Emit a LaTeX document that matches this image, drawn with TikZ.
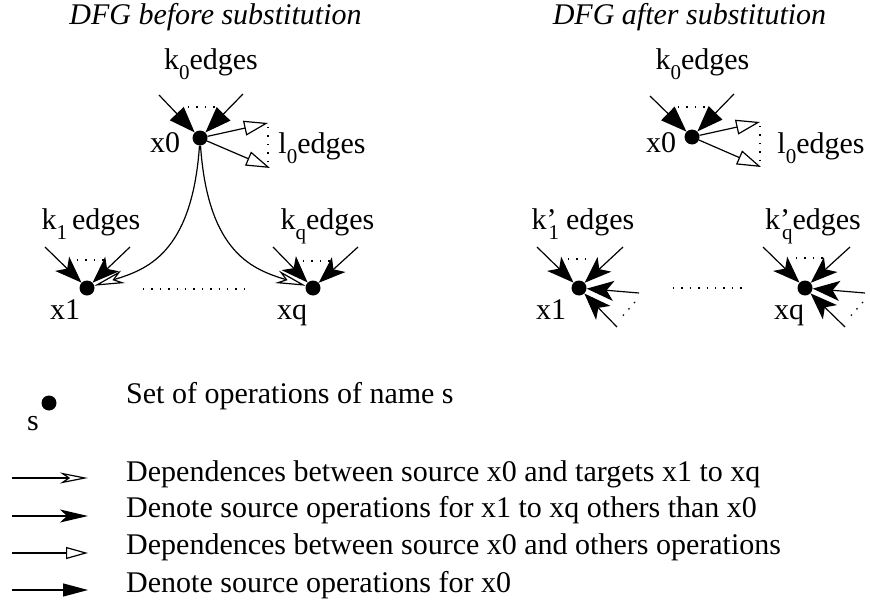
\documentclass[tikz,border=0pt]{standalone}
\usepackage{fontspec}
\setmainfont{Liberation Serif}
\usetikzlibrary{arrows.meta}
\newcommand\lsub[1]{\raisebox{-10pt}{\fontsize{21}{21}\selectfont #1}}
\newcommand\kprime[1]{k\rlap{’}\kern2pt\raisebox{-10pt}{\fontsize{21}{21}\selectfont #1}}
\begin{document}
\begin{tikzpicture}[x=1pt,y=-1pt,
  every node/.style={font=\fontsize{30}{36}\selectfont},
  lbl/.style={anchor=base, inner sep=0pt},
  lleft/.style={anchor=base west, inner sep=0pt},
  ttl/.style={anchor=base, inner sep=0pt, font=\fontsize{30}{36}\selectfont\itshape},
  dot/.style={circle, fill=black, minimum size=15pt, inner sep=0pt},
  thinl/.style={line width=1.2pt},
  dots/.style={line width=1.3pt, dash pattern=on 1.4pt off 7pt},
  srcA/.style={thinl, -{Triangle[length=26pt,width=19pt]}},
  srcB/.style={thinl, -{Stealth[length=27pt,width=20pt,inset=7pt]}},
  depA/.style={thinl, -{Stealth[open,length=30pt,width=13pt,inset=9pt]}},
  depB/.style={thinl, -{Triangle[open,length=24pt,width=15pt]}},
  lsrcA/.style={thinl, -{Triangle[length=25pt,width=13pt]}},
  lsrcB/.style={thinl, -{Stealth[length=28pt,width=13pt,inset=7pt]}},
  ldepA/.style={thinl, -{Stealth[open,length=28pt,width=11pt,inset=8pt]}},
  ldepB/.style={thinl, -{Triangle[open,length=22pt,width=12pt]}},
]
\useasboundingbox (0,0) rectangle (870,602);

% ---------------- Left: before substitution
\node[ttl] (Ltitle) at (215.5,25) {DFG before substitution};
\node[dot] (Lx0) at (200,138) {};
\node[dot] (Lx1) at (87,288) {};
\node[dot] (Lxq) at (313,288) {};
\node[lbl] (Lx0t) at (165,152) {x0};
\node[lbl] (Lx1t) at (65,319) {x1};
\node[lbl] (Lxqt) at (292,319) {xq};
\node[lbl] (Lk0t) at (211,70) {k\lsub{0}edges};
\node[lbl] (Ll0t) at (322,153) {l\lsub{0}edges};
\node[lbl] (Lk1t) at (91,229) {k\lsub{1}\kern5pt edges};
\node[lbl] (Lkqt) at (327.5,229) {k\lsub{q}edges};

\coordinate (Lk0a) at (159,95);
\coordinate (Lk0b) at (243,94);
\draw[srcA] (Lk0a) -- (Lx0);
\draw[srcA] (Lk0b) -- (Lx0);
\coordinate (Lk0d1) at (188,107);
\coordinate (Lk0d2) at (220,107);
\draw[dots] (Lk0d1) -- (Lk0d2);

\coordinate (Ll0a) at (268,123);
\coordinate (Ll0b) at (270,168);
\draw[depB] (Lx0) -- (Ll0a);
\draw[depB] (Lx0) -- (Ll0b);
\coordinate (Ll0d1) at (268,127);
\coordinate (Ll0d2) at (268,163);
\draw[dots] (Ll0d1) -- (Ll0d2);

\coordinate (Lk1a) at (45,247);
\coordinate (Lk1b) at (130,247);
\draw[srcB] (Lk1a) -- (Lx1);
\draw[srcB] (Lk1b) -- (Lx1);
\coordinate (Lk1d1) at (77,260);
\coordinate (Lk1d2) at (105,260);
\draw[dots] (Lk1d1) -- (Lk1d2);

\coordinate (Lkqa) at (273,247);
\coordinate (Lkqb) at (358,247);
\draw[srcB] (Lkqa) -- (Lxq);
\draw[srcB] (Lkqb) -- (Lxq);
\coordinate (Lkqd1) at (303,261);
\coordinate (Lkqd2) at (333,261);
\draw[dots] (Lkqd1) -- (Lkqd2);

\draw[depA] (Lx0) .. controls (192,255) and (145,270) .. (Lx1);
\draw[depA] (Lx0) .. controls (208,255) and (255,270) .. (Lxq);
\coordinate (Lhd1) at (143,289);
\coordinate (Lhd2) at (247,289);
\draw[dots] (Lhd1) -- (Lhd2);

% ---------------- Right: after substitution
\node[ttl] (Rtitle) at (689.5,25) {DFG after substitution};
\node[dot] (Rx0) at (692,137) {};
\node[dot] (Rx1) at (579,288) {};
\node[dot] (Rxq) at (805,288) {};
\node[lbl] (Rx0t) at (661,152) {x0};
\node[lbl] (Rx1t) at (551,319) {x1};
\node[lbl] (Rxqt) at (789,319) {xq};
\node[lbl] (Rk0t) at (702.5,70) {k\lsub{0}edges};
\node[lbl] (Rl0t) at (821,153) {l\lsub{0}edges};
\node[lbl] (Rk1t) at (583,229) {\kprime{1}\kern7pt edges};
\node[lbl] (Rkqt) at (813,229) {\kprime{q}edges};

\coordinate (Rk0a) at (650,96);
\coordinate (Rk0b) at (734,94);
\draw[srcA] (Rk0a) -- (Rx0);
\draw[srcA] (Rk0b) -- (Rx0);
\coordinate (Rk0d1) at (678,107);
\coordinate (Rk0d2) at (707,107);
\draw[dots] (Rk0d1) -- (Rk0d2);

\coordinate (Rl0a) at (760,122);
\coordinate (Rl0b) at (761,167);
\draw[depB] (Rx0) -- (Rl0a);
\draw[depB] (Rx0) -- (Rl0b);
\coordinate (Rl0d1) at (760,126);
\coordinate (Rl0d2) at (760,163);
\draw[dots] (Rl0d1) -- (Rl0d2);

\coordinate (Rk1a) at (537,247);
\coordinate (Rk1b) at (623,247);
\draw[srcB] (Rk1a) -- (Rx1);
\draw[srcB] (Rk1b) -- (Rx1);
\coordinate (Rk1d1) at (568,259);
\coordinate (Rk1d2) at (593,259);
\draw[dots] (Rk1d1) -- (Rk1d2);
\coordinate (Rk1c) at (639,293);
\coordinate (Rk1e) at (617,327);
\draw[srcB] (Rk1c) -- (Rx1);
\draw[srcB] (Rk1e) -- (Rx1);
\coordinate (Rk1d3) at (635,302);
\coordinate (Rk1d4) at (620,319);
\draw[dots] (Rk1d3) -- (Rk1d4);

\coordinate (Rkqa) at (763,247);
\coordinate (Rkqb) at (850,247);
\draw[srcB] (Rkqa) -- (Rxq);
\draw[srcB] (Rkqb) -- (Rxq);
\coordinate (Rkqd1) at (796,258);
\coordinate (Rkqd2) at (823,258);
\draw[dots] (Rkqd1) -- (Rkqd2);
\coordinate (Rkqc) at (865,293);
\coordinate (Rkqe) at (845,327);
\draw[srcB] (Rkqc) -- (Rxq);
\draw[srcB] (Rkqe) -- (Rxq);
\coordinate (Rkqd3) at (863,302);
\coordinate (Rkqd4) at (848,319);
\draw[dots] (Rkqd3) -- (Rkqd4);

\coordinate (Rhd1) at (673,288);
\coordinate (Rhd2) at (747,288);
\draw[dots] (Rhd1) -- (Rhd2);

% ---------------- Legend
\node[dot] (Gdot) at (49,403) {};
\node[lbl] (Gs) at (33,430) {s};
\node[lleft] (Gt0) at (126,403) {Set of operations of name s};

\coordinate (Ga1) at (12,478);  \coordinate (Gb1) at (88,478);
\coordinate (Ga2) at (12,516);  \coordinate (Gb2) at (88,516);
\coordinate (Ga3) at (12,553);  \coordinate (Gb3) at (88,553);
\coordinate (Ga4) at (12,590);  \coordinate (Gb4) at (88,590);
\draw[ldepA] (Ga1) -- (Gb1);
\draw[lsrcB] (Ga2) -- (Gb2);
\draw[ldepB] (Ga3) -- (Gb3);
\draw[lsrcA] (Ga4) -- (Gb4);
\node[lleft] (Gt1) at (126,481) {Dependences between source x0 and targets x1 to xq};
\node[lleft] (Gt2) at (126,517) {Denote source operations for x1 to xq others than x0};
\node[lleft] (Gt3) at (126,554) {Dependences between source x0 and others operations};
\node[lleft] (Gt4) at (126,592) {Denote source operations for x0};
\end{tikzpicture}
\end{document}
